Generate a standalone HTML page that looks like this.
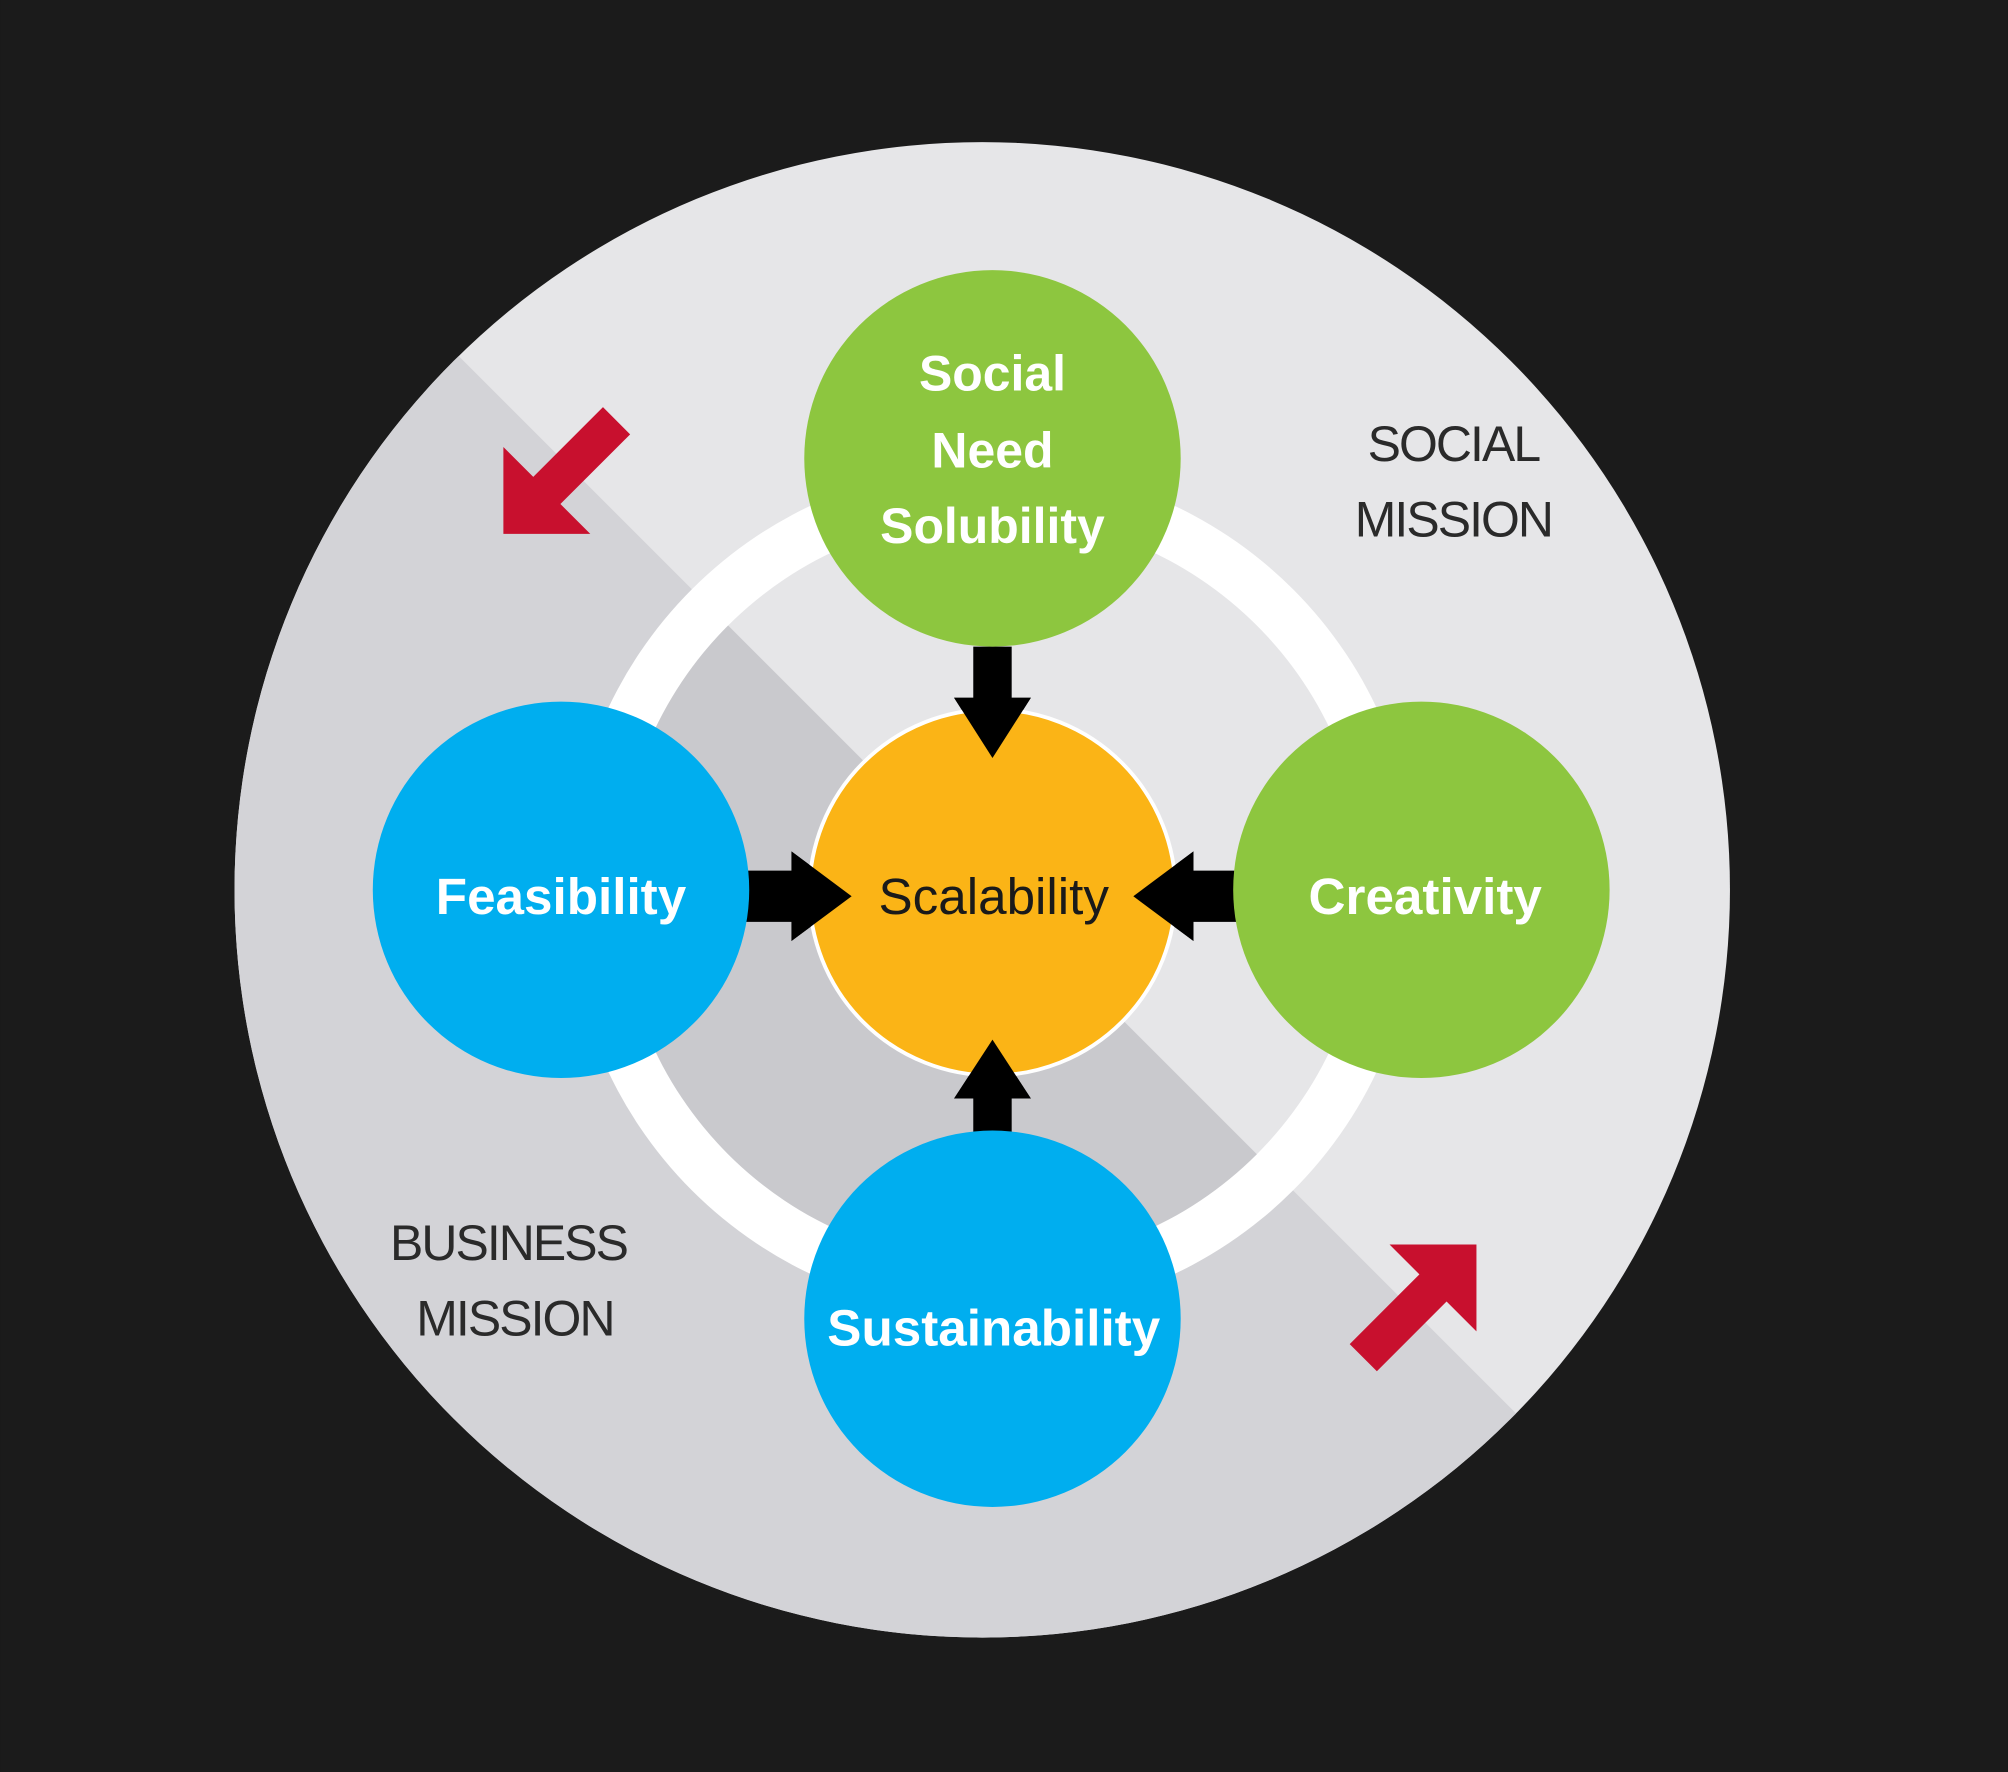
<!DOCTYPE html>
<html><head><meta charset="utf-8"><style>
html,body{margin:0;padding:0;background:#1b1b1b;}
svg{display:block;}
text{font-family:"Liberation Sans",Arial,sans-serif;}
</style></head><body>
<svg width="2008" height="1772" viewBox="0 0 1568 1384" xmlns="http://www.w3.org/2000/svg">
<defs>
<clipPath id="big"><circle cx="767" cy="695" r="584"/></clipPath>
<clipPath id="inner"><circle cx="775" cy="695" r="292"/></clipPath>
</defs>
<rect width="1568" height="1384" fill="#1b1b1b"/>
<g clip-path="url(#big)">
<rect x="0" y="0" width="1568" height="1384" fill="#e6e6e8"/>
<polygon points="-200,-280 1500,1420 -200,1420" fill="#d3d3d7"/>
</g>
<circle cx="775" cy="695" r="332" fill="#ffffff"/>
<g clip-path="url(#inner)">
<rect x="0" y="0" width="1568" height="1384" fill="#e6e6e8"/>
<polygon points="-200,-280 1500,1420 -200,1420" fill="#c9c9cd"/>
</g>
<polygon points="760,505 790,505 790,545 805,545 775,592 745,545 760,545" fill="#000"/>
<polygon points="760,885 790,885 790,858 805,858 775,812 745,858 760,858" fill="#000"/>
<polygon points="582,680 618,680 618,665 665,700 618,735 618,720 582,720" fill="#000"/>
<polygon points="968,680 932,680 932,665 885,700 932,735 932,720 968,720" fill="#000"/>
<circle cx="775" cy="358" r="147" fill="#8dc63f"/>
<circle cx="438" cy="695" r="147" fill="#00aeef"/>
<circle cx="1110" cy="695" r="147" fill="#8dc63f"/>
<circle cx="775" cy="1030" r="147" fill="#00aeef"/>
<circle cx="775" cy="697" r="143" fill="#fbb416" stroke="#ffffff" stroke-width="3"/>
<polygon points="745,545 805,545 775,592" fill="#000"/>
<polygon points="745,858 805,858 775,812" fill="#000"/>
<polygon points="618,665 665,700 618,735" fill="#000"/>
<polygon points="932,665 885,700 932,735" fill="#000"/>
<polygon transform="translate(393,417) rotate(135)" points="0,0 -48,-48 -48,-15 -125,-15 -125,15 -48,15 -48,48" fill="#c8102e"/>
<polygon transform="translate(1153,972) rotate(-45)" points="0,0 -48,-48 -48,-15 -125,-15 -125,15 -48,15 -48,48" fill="#c8102e"/>
<g font-weight="bold" fill="#ffffff" font-size="39" text-anchor="middle">
<text x="775" y="305">Social</text>
<text x="775" y="365">Need</text>
<text x="775" y="424">Solubility</text>
<text x="438" y="714" font-size="40">Feasibility</text>
<text x="1113" y="714" font-size="40">Creativity</text>
<text x="776" y="1051" font-size="40">Sustainability</text>
</g>
<text x="776" y="714" font-size="40" fill="#1a1a1a" text-anchor="middle">Scalability</text>
<g font-size="39" fill="#2a2a2a" text-anchor="middle" letter-spacing="-1.5">
<text x="1135" y="360">SOCIAL</text>
<text x="1135" y="419">MISSION</text>
<text x="397" y="984">BUSINESS</text>
<text x="402" y="1043">MISSION</text>
</g>
</svg>
</body></html>
